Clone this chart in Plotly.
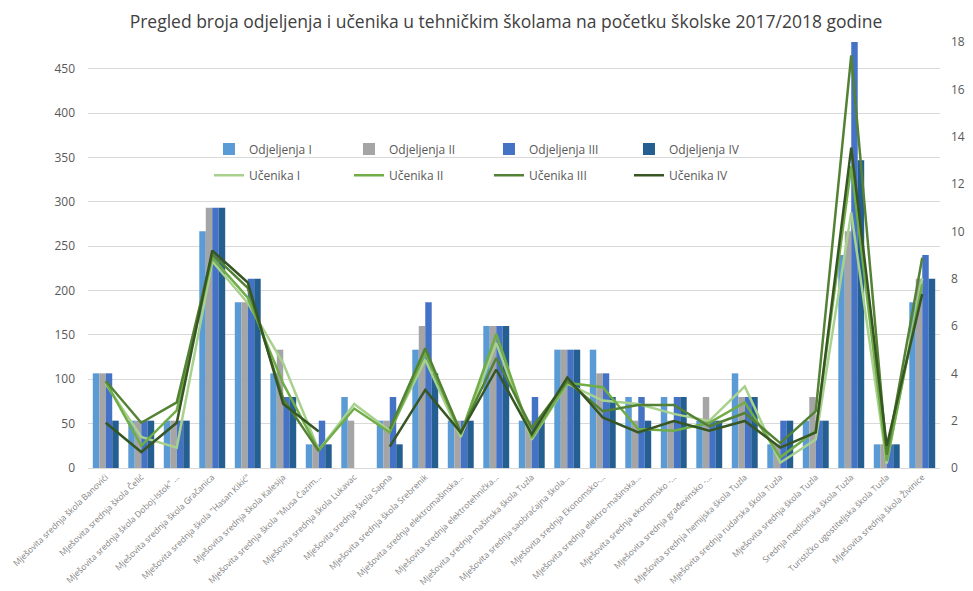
"""
Pregled broja odjeljenja i učenika u tehničkim školama (2017/2018).
Bars = broj odjeljenja (right axis), lines = broj učenika (left axis).
"""

import plotly.graph_objects as go

FONT = "Open Sans"
TEXT = "#595959"
GRID = "#D9D9D9"

schools = [
    "Mješovita srednja škola Banovići",
    "Mješovita srednja škola Čelić",
    'Mješovita srednja škola Doboj-Istok" ...',
    "Mješovita srednja škola Gračanica",
    'Mješovita srednja škola "Hasan Kikić"',
    "Mješovita srednja škola Kalesija",
    'Mješovita srednja škola "Musa Ćazim...',
    "Mješovita srednja škola Lukavac",
    "Mješovita srednja škola Sapna",
    "Mješovita srednja škola Srebrenik",
    "Mješovita srednja elektromašinska...",
    "Mješovita srednja elektrotehnička...",
    "Mješovita srednja mašinska škola Tuzla",
    "Mješovita srednja saobraćajna škola...",
    "Mješovita srednja Ekonomsko-...",
    "Mješovita srednja elektro-mašinska...",
    "Mješovita srednja ekonomsko -...",
    "Mješovita srednja građevinsko -...",
    "Mješovita srednja hemijska škola Tuzla",
    "Mješovita srednja rudarska škola Tuzla",
    "Mješovita srednja škola Tuzla",
    "Srednja medicinska škola Tuzla",
    "Turističko ugostiteljska škola Tuzla",
    "Mješovita srednja škola Živinice",
]

# broj odjeljenja po razredu
odjeljenja_I = [4, 2, 2, 10, 7, 4, 1, 3, 2, 5, 2, 6, 2, 5, 5, 3, 3, 2, 4, 1, 2, 9, 1, 7]
odjeljenja_II = [4, 2, 2, 11, 7, 5, 1, 2, 2, 6, 2, 6, 2, 5, 4, 2, 2, 3, 3, 1, 3, 10, 1, 8]
odjeljenja_III = [4, 2, 2, 11, 8, 3, 2, 0, 3, 7, 2, 6, 3, 5, 4, 3, 3, 2, 3, 2, 2, 18, 1, 9]
odjeljenja_IV = [2, 2, 2, 11, 8, 3, 1, 0, 1, 4, 2, 6, 2, 5, 3, 2, 3, 2, 3, 2, 2, 13, 1, 8]

# broj učenika po razredu (None = nema razreda)
ucenika_I = [95, 35, 23, 233, 186, 118, 20, 72, 42, 122, 35, 141, 32, 95, 76, 72, 61, 53, 92, 6, 32, 288, 5, 214]
ucenika_II = [97, 25, 65, 237, 192, 95, 20, 67, 40, 130, 38, 151, 34, 96, 91, 44, 42, 51, 74, 12, 42, 340, 8, 207]
ucenika_III = [98, 51, 74, 241, 203, 78, 19, None, 44, 135, 40, 124, 45, 98, 64, 71, 71, 47, 62, 28, 64, 465, 15, 237]
ucenika_IV = [51, 18, 51, 245, 209, 72, 41, None, 24, 88, 40, 111, 38, 102, 57, 40, 53, 42, 53, 23, 40, 361, 25, 196]

bar_series = [
    ("Odjeljenja I", odjeljenja_I, "#5B9BD5"),
    ("Odjeljenja II", odjeljenja_II, "#A5A5A5"),
    ("Odjeljenja III", odjeljenja_III, "#4472C4"),
    ("Odjeljenja IV", odjeljenja_IV, "#255E91"),
]
line_series = [
    ("Učenika I", ucenika_I, "#A9D18E"),
    ("Učenika II", ucenika_II, "#70AD47"),
    ("Učenika III", ucenika_III, "#548235"),
    ("Učenika IV", ucenika_IV, "#375623"),
]

fig = go.Figure()

# bars sit on the base y axis (drawn right) so the lines on the overlay stay on top
for name, vals, color in bar_series:
    fig.add_trace(go.Bar(
        x=schools, y=vals, name=name,
        marker=dict(color=color, line=dict(width=0)),
        yaxis="y", legend="legend",
    ))

for name, vals, color in line_series:
    fig.add_trace(go.Scatter(
        x=schools, y=vals, name=name,
        mode="lines", line=dict(color=color, width=2.5),
        connectgaps=False, yaxis="y2", legend="legend2",
    ))

legend_common = dict(
    orientation="h", xanchor="left", yanchor="middle",
    bgcolor="rgba(0,0,0,0)", font=dict(family=FONT, size=12, color=TEXT),
    entrywidth=95, itemwidth=30,
)

# the page body has an 8px margin, so the figure is 8px smaller than the window
fig.update_layout(
    width=965, height=583,
    paper_bgcolor="white", plot_bgcolor="white",
    font=dict(family=FONT, color=TEXT),
    title=dict(
        text="Pregled broja odjeljenja i učenika u tehničkim školama na početku školske 2017/2018 godine",
        font=dict(family=FONT, size=17.5, color="#404040"),
        x=0.516, xref="container", xanchor="center", y=0.976, yanchor="middle",
    ),
    margin=dict(l=80, r=33, t=34, b=123, autoexpand=False),
    barmode="group", bargap=0.27, bargroupgap=0,
    showlegend=True,
    legend=dict(x=0.142, y=0.749, **legend_common),
    legend2=dict(x=0.142, y=0.687, **legend_common),
    xaxis=dict(
        tickangle=-44, tickfont=dict(family=FONT, size=8.5, color="#7F7F7F"),
        showline=True, linecolor=GRID, ticks="", automargin=False,
    ),
    yaxis=dict(
        side="right", range=[0, 18], dtick=2, showgrid=False, zeroline=False,
        tickfont=dict(family=FONT, size=12, color=TEXT), ticks="", automargin=False,
        ticklabelstandoff=10,
    ),
    yaxis2=dict(
        overlaying="y", side="left", range=[0, 480], tickvals=list(range(0, 451, 50)),
        showgrid=True, gridcolor=GRID, gridwidth=1, zeroline=False,
        tickfont=dict(family=FONT, size=12, color=TEXT), ticks="", automargin=False,
        ticklabelstandoff=12,
    ),
)

fig.write_html("out.html")
